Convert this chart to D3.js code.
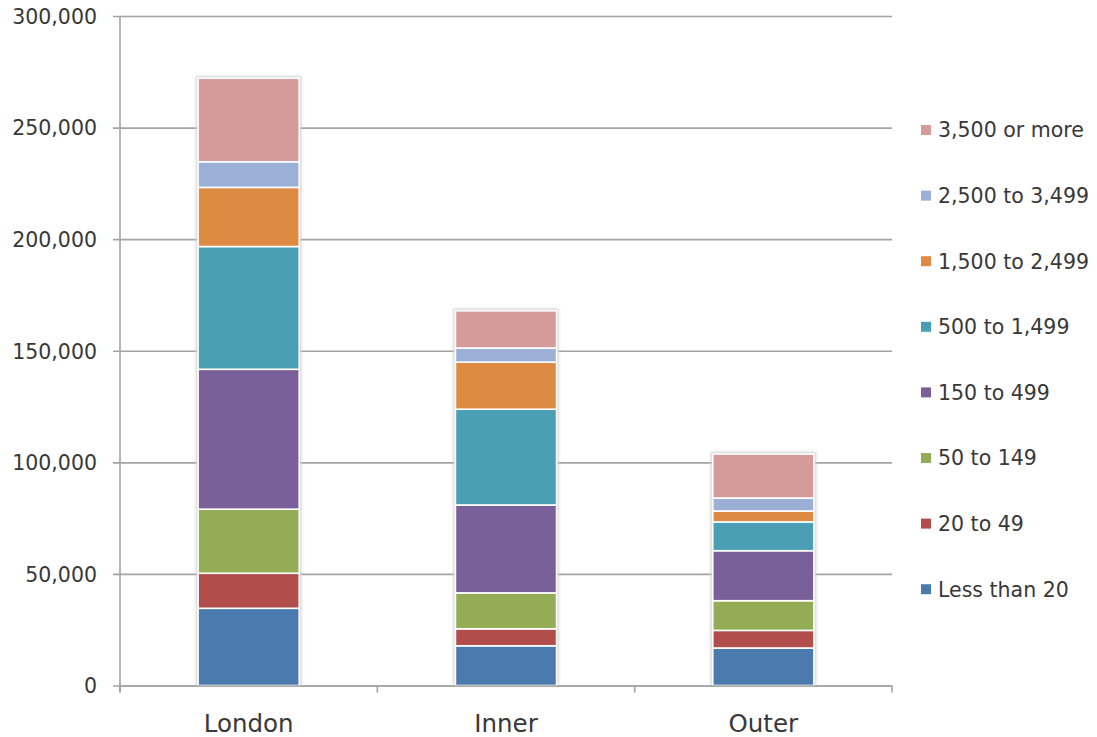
<!DOCTYPE html>
<html>
<head>
<meta charset="utf-8">
<script src="https://cdn.jsdelivr.net/npm/d3@7"></script>
<style>
  body { margin: 0; background: #fff; }
  text { font-family: "DejaVu Sans", sans-serif; fill: #383838; }
</style>
</head>
<body>
<script>
const w = 1097;
const h = 737;

// data
const areas = ["London", "Inner", "Outer"];
const bands = ["Less than 20", "20 to 49", "50 to 149", "150 to 499",
  "500 to 1,499", "1,500 to 2,499", "2,500 to 3,499", "3,500 or more"];
const colours = ["#4b7aae", "#b14e4b", "#93ac55", "#7a6098",
  "#4a9fb5", "#dd8b42", "#9bb0d4", "#d59a9a"];
const london = [34600, 15700, 28700, 62700, 55000, 26500, 11500, 37400];
const inner = [17800, 7600, 16100, 39400, 42900, 21100, 6300, 16700];
const outer = [16800, 7900, 13300, 22400, 12900, 4900, 5800, 19700];
const yTicks = [0, 50000, 100000, 150000, 200000, 250000, 300000];

const values = [london, inner, outer];

const svg = d3.select("body").append("svg").attr("width", w).attr("height", h);

const m = { t: 16, r: 205, b: 51.5, l: 120 };
const gridWidth = w - m.l - m.r;
const gridHeight = h - m.t - m.b;

const xScale = d3.scaleBand().domain(areas).range([0, gridWidth]).padding(0);
const yScale = d3.scaleLinear().domain([0, 300000]).range([gridHeight, 0]);
const barW = xScale.bandwidth() * 0.393;

const g = svg.append("g").attr("transform", `translate(${m.l}, ${m.t})`);

// shadow filter
const defs = svg.append("defs");
defs.append("filter").attr("id", "soft")
  .attr("x", "-20%").attr("y", "-20%").attr("width", "140%").attr("height", "140%")
  .append("feGaussianBlur").attr("stdDeviation", 1.6);

// y-axis with gridlines
const yAxis = d3.axisLeft(yScale)
  .tickValues(yTicks)
  .tickSize(-gridWidth)
  .tickPadding(23)
  .tickFormat(d3.format(","));
const yg = g.append("g").call(yAxis);
yg.select(".domain").remove();
yg.selectAll(".tick line").attr("stroke", "#a3a3a3").attr("stroke-width", 1.6).attr("x1", -7);
yg.selectAll(".tick text").attr("font-size", 20.5).attr("dy", "0.36em");

// stacked bars
const stack = areas.map((a, i) => {
  let acc = 0;
  return values[i].map((v, j) => {
    const seg = { area: a, band: j, y0: acc, y1: acc + v };
    acc += v;
    return seg;
  });
});

const barGroups = g.selectAll(".bar").data(stack).enter().append("g").attr("class", "bar");

barGroups.append("rect")
  .attr("x", (d) => xScale(d[0].area) + (xScale.bandwidth() - barW) / 2 - 2)
  .attr("y", (d) => yScale(d[d.length - 1].y1) - 2)
  .attr("width", barW + 4)
  .attr("height", (d) => yScale(0) - yScale(d[d.length - 1].y1) + 2)
  .attr("fill", "#cfcfcf")
  .attr("filter", "url(#soft)");

barGroups.selectAll(".seg").data((d) => d).enter().append("rect")
  .attr("class", "seg")
  .attr("x", (d) => xScale(d.area) + (xScale.bandwidth() - barW) / 2)
  .attr("y", (d) => yScale(d.y1))
  .attr("width", barW)
  .attr("height", (d) => yScale(d.y0) - yScale(d.y1))
  .attr("fill", (d) => colours[d.band])
  .attr("stroke", "#ffffff")
  .attr("stroke-width", 1.6);

// x-axis
const xAxis = d3.axisBottom(xScale).tickSize(0).tickPadding(0);
const xg = g.append("g").attr("transform", `translate(0, ${gridHeight})`).call(xAxis);
xg.select(".domain").attr("stroke", "#a3a3a3").attr("stroke-width", 1.6);
xg.selectAll(".tick text").attr("font-size", 24.5).attr("dy", null).attr("y", 46);
// category separators
xg.selectAll(".sep").data([0, 1, 2, 3]).enter().append("line")
  .attr("x1", (d) => d * xScale.step()).attr("x2", (d) => d * xScale.step())
  .attr("y1", 0).attr("y2", 7)
  .attr("stroke", "#a3a3a3").attr("stroke-width", 1.6);

// y-axis line
g.append("line")
  .attr("x1", 0).attr("x2", 0).attr("y1", 0).attr("y2", gridHeight + 7)
  .attr("stroke", "#a3a3a3").attr("stroke-width", 1.6);

// legend
const legend = svg.append("g").attr("transform", "translate(921, 130)");
const order = d3.range(bands.length).reverse();
const item = legend.selectAll(".item").data(order).enter().append("g")
  .attr("transform", (d, i) => `translate(0, ${i * 65.6})`);
item.append("rect").attr("x", 0).attr("y", -5).attr("width", 10).attr("height", 10)
  .attr("fill", (d) => colours[d]);
item.append("text").attr("x", 17).attr("y", 0).attr("dy", "0.36em")
  .attr("font-size", 20.5).text((d) => bands[d]);
</script>
</body>
</html>
